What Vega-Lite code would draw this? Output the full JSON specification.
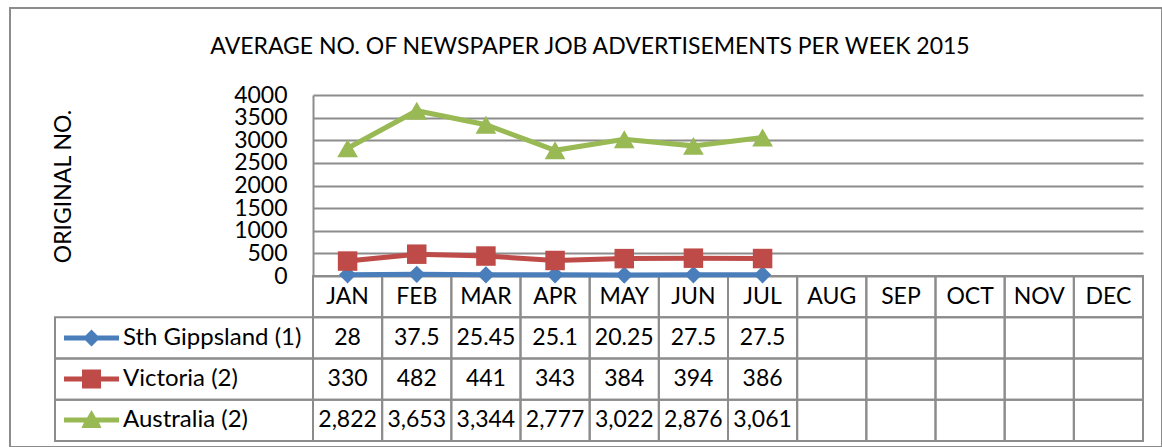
{
  "$schema": "https://vega.github.io/schema/vega-lite/v6.json",
  "width": 1152,
  "height": 439,
  "autosize": {"type": "none"},
  "padding": {"left": 10, "top": 8, "right": 0, "bottom": 0},
  "background": "white",
  "config": {"view": {"stroke": "#8c8c8c", "strokeWidth": 2}, "font": "Lato"},
  "title": {"text": "AVERAGE NO. OF NEWSPAPER JOB ADVERTISEMENTS PER WEEK 2015", "font": "Lato", "fontSize": 23, "fontWeight": "normal", "color": "black", "anchor": "middle", "frame": "group", "baseline": "alphabetic", "offset": 0, "dy": 69, "dx": 4},
  "datasets": {
    "obs": [
      {"month": "JAN", "series": "Sth Gippsland (1)", "value": 28},
      {"month": "FEB", "series": "Sth Gippsland (1)", "value": 37.5},
      {"month": "MAR", "series": "Sth Gippsland (1)", "value": 25.45},
      {"month": "APR", "series": "Sth Gippsland (1)", "value": 25.1},
      {"month": "MAY", "series": "Sth Gippsland (1)", "value": 20.25},
      {"month": "JUN", "series": "Sth Gippsland (1)", "value": 27.5},
      {"month": "JUL", "series": "Sth Gippsland (1)", "value": 27.5},
      {"month": "JAN", "series": "Victoria (2)", "value": 330},
      {"month": "FEB", "series": "Victoria (2)", "value": 482},
      {"month": "MAR", "series": "Victoria (2)", "value": 441},
      {"month": "APR", "series": "Victoria (2)", "value": 343},
      {"month": "MAY", "series": "Victoria (2)", "value": 384},
      {"month": "JUN", "series": "Victoria (2)", "value": 394},
      {"month": "JUL", "series": "Victoria (2)", "value": 386},
      {"month": "JAN", "series": "Australia (2)", "value": 2822},
      {"month": "FEB", "series": "Australia (2)", "value": 3653},
      {"month": "MAR", "series": "Australia (2)", "value": 3344},
      {"month": "APR", "series": "Australia (2)", "value": 2777},
      {"month": "MAY", "series": "Australia (2)", "value": 3022},
      {"month": "JUN", "series": "Australia (2)", "value": 2876},
      {"month": "JUL", "series": "Australia (2)", "value": 3061}
    ],
    "grid": [
      {"month": "JAN", "row": ["hdr", "Sth Gippsland (1)", "Victoria (2)", "Australia (2)"]},
      {"month": "FEB", "row": ["hdr", "Sth Gippsland (1)", "Victoria (2)", "Australia (2)"]},
      {"month": "MAR", "row": ["hdr", "Sth Gippsland (1)", "Victoria (2)", "Australia (2)"]},
      {"month": "APR", "row": ["hdr", "Sth Gippsland (1)", "Victoria (2)", "Australia (2)"]},
      {"month": "MAY", "row": ["hdr", "Sth Gippsland (1)", "Victoria (2)", "Australia (2)"]},
      {"month": "JUN", "row": ["hdr", "Sth Gippsland (1)", "Victoria (2)", "Australia (2)"]},
      {"month": "JUL", "row": ["hdr", "Sth Gippsland (1)", "Victoria (2)", "Australia (2)"]},
      {"month": "AUG", "row": ["hdr", "Sth Gippsland (1)", "Victoria (2)", "Australia (2)"]},
      {"month": "SEP", "row": ["hdr", "Sth Gippsland (1)", "Victoria (2)", "Australia (2)"]},
      {"month": "OCT", "row": ["hdr", "Sth Gippsland (1)", "Victoria (2)", "Australia (2)"]},
      {"month": "NOV", "row": ["hdr", "Sth Gippsland (1)", "Victoria (2)", "Australia (2)"]},
      {"month": "DEC", "row": ["hdr", "Sth Gippsland (1)", "Victoria (2)", "Australia (2)"]}
    ],
    "keys": [
      {"row": "Sth Gippsland (1)"},
      {"row": "Victoria (2)"},
      {"row": "Australia (2)"}
    ]
  },
  "layer": [
    {
      "encoding": {
        "x": {"field": "month", "type": "ordinal", "sort": null, "axis": null,
              "scale": {"type": "band", "domain": ["JAN","FEB","MAR","APR","MAY","JUN","JUL","AUG","SEP","OCT","NOV","DEC"], "range": [303, 1133], "paddingInner": 0, "paddingOuter": 0}}
      },
      "layer": [
        {
          "data": {"name": "grid"},
          "transform": [{"flatten": ["row"]}],
          "mark": {"type": "rect", "fill": "transparent", "stroke": "#8c8c8c", "strokeWidth": 2},
          "encoding": {
            "y": {"field": "row", "type": "nominal", "sort": null, "axis": null,
                  "scale": {"type": "band", "domain": ["hdr", "Sth Gippsland (1)", "Victoria (2)", "Australia (2)"], "range": [268, 433], "paddingInner": 0, "paddingOuter": 0}}
          }
        },
        {
          "data": {"name": "grid"},
          "mark": {"type": "text", "font": "Lato", "fontSize": 23, "color": "black", "baseline": "middle", "align": "center"},
          "encoding": {
            "y": {"datum": "hdr", "type": "nominal"},
            "text": {"field": "month"}
          }
        },
        {
          "data": {"name": "obs"},
          "mark": {"type": "text", "font": "Lato", "fontSize": 23, "color": "black", "baseline": "middle", "align": "center"},
          "encoding": {
            "y": {"field": "series", "type": "nominal"},
            "text": {"field": "value", "type": "quantitative", "format": ","}
          }
        }
      ]
    },
    {
      "data": {"name": "keys"},
      "mark": {"type": "rect", "fill": "transparent", "stroke": "#8c8c8c", "strokeWidth": 2},
      "encoding": {
        "x": {"datum": "legend", "type": "nominal", "axis": null,
              "scale": {"type": "band", "domain": ["legend"], "range": [45, 303], "paddingInner": 0, "paddingOuter": 0}},
        "y": {"field": "row", "type": "nominal", "sort": null, "axis": null,
              "scale": {"type": "band", "domain": ["hdr", "Sth Gippsland (1)", "Victoria (2)", "Australia (2)"], "range": [268, 433], "paddingInner": 0, "paddingOuter": 0}}
      }
    },
    {
      "data": {"name": "obs"},
      "encoding": {
        "x": {"field": "month", "type": "ordinal", "sort": null, "axis": null,
              "scale": {"type": "band", "domain": ["JAN","FEB","MAR","APR","MAY","JUN","JUL","AUG","SEP","OCT","NOV","DEC"], "range": [303, 1133], "paddingInner": 0, "paddingOuter": 0}},
        "y": {"field": "value", "type": "quantitative",
              "scale": {"domain": [0, 4000], "range": [268, 87], "nice": false, "zero": true},
              "axis": {"orient": "left", "offset": -303, "values": [0, 500, 1000, 1500, 2000, 2500, 3000, 3500, 4000], "format": "d",
                       "grid": true, "gridColor": "#8c8c8c", "gridWidth": 2,
                       "domain": true, "domainColor": "#8c8c8c", "domainWidth": 2,
                       "ticks": false, "tickSize": 0, "labelPadding": 26,
                       "labelFont": "Lato", "labelFontSize": 23, "labelColor": "black", "labelOverlap": false, "labelFlush": false, "labelBaseline": "middle",
                       "title": "ORIGINAL NO.", "titleFont": "Lato", "titleFontSize": 23, "titleFontWeight": "normal", "titleColor": "black",
                       "titleAngle": -90, "titleAlign": "center", "titleBaseline": "bottom", "titleX": -238, "titleY": 178}},
        "color": {"field": "series", "type": "nominal",
                  "scale": {"domain": ["Sth Gippsland (1)", "Victoria (2)", "Australia (2)"], "range": ["#4a7ebb", "#be4b48", "#98b954"]},
                  "legend": {"orient": "none", "legendX": 69.5, "legendY": 318, "title": null, "direction": "vertical",
                             "labelFont": "Lato", "labelFontSize": 24, "labelColor": "black", "labelLimit": 0, "labelOffset": 19.5,
                             "symbolSize": 400, "padding": 0, "rowPadding": 17,
                             "encode": {"symbols": {"update": {
                               "shape": {"signal": "datum.value === 'Sth Gippsland (1)' ? 'M-2.75,-0.25L-0.6,-0.25L0,-0.85L0.6,-0.25L2.75,-0.25L2.75,0.25L0.6,0.25L0,0.85L-0.6,0.25L-2.75,0.25Z' : datum.value === 'Victoria (2)' ? 'M-2.75,-0.25L-0.95,-0.25L-0.95,-0.95L0.95,-0.95L0.95,-0.25L2.75,-0.25L2.75,0.25L0.95,0.25L0.95,0.95L-0.95,0.95L-0.95,0.25L-2.75,0.25Z' : 'M-2.75,-0.25L-0.43,-0.25L0,-1L0.43,-0.25L2.75,-0.25L2.75,0.25L0.75,0.25L1,0.8L-1,0.8L-0.75,0.25L-2.75,0.25Z'"},
                               "fill": {"signal": "datum.value === 'Sth Gippsland (1)' ? '#4a7ebb' : datum.value === 'Victoria (2)' ? '#be4b48' : '#98b954'"},
                               "stroke": {"value": "transparent"},
                               "strokeWidth": {"value": 0},
                               "opacity": {"value": 1}
                             }}}}}
      },
      "layer": [
        {"mark": {"type": "line", "strokeWidth": 5}},
        {"transform": [{"filter": "datum.series === 'Sth Gippsland (1)'"}],
         "mark": {"type": "point", "filled": true, "opacity": 1, "shape": "diamond", "size": 300}},
        {"transform": [{"filter": "datum.series === 'Victoria (2)'"}],
         "mark": {"type": "point", "filled": true, "opacity": 1, "shape": "square", "size": 380}},
        {"transform": [{"filter": "datum.series === 'Australia (2)'"}],
         "mark": {"type": "point", "filled": true, "opacity": 1, "shape": "triangle-up", "size": 430}}
      ]
    }
  ],
  "resolve": {"scale": {"x": "independent", "y": "independent"}}
}
